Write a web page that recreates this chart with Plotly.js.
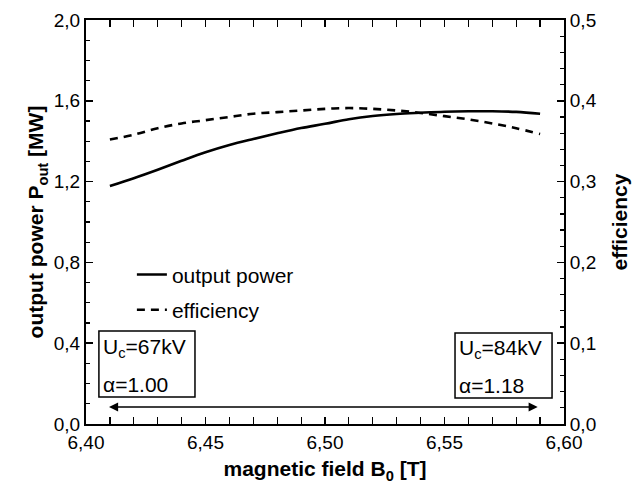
<!DOCTYPE html>
<html>
<head>
<meta charset="utf-8">
<script src="https://cdn.plot.ly/plotly-3.0.1.min.js"></script>
<style>
  html, body { margin: 0; padding: 0; background: #fff; }
  #chart { width: 635px; height: 484px; }
</style>
</head>
<body>
<div id="chart"></div>
<script>
// Magnetic field B0 [T]
const fieldB0 = [6.41, 6.42, 6.43, 6.44, 6.45, 6.46, 6.47, 6.48, 6.49, 6.50,
                 6.51, 6.52, 6.53, 6.54, 6.55, 6.56, 6.57, 6.58, 6.59];
// Output power P_out [MW]
const outputPower = [1.178, 1.217, 1.259, 1.303, 1.345, 1.381, 1.411, 1.439, 1.465, 1.486,
                     1.509, 1.525, 1.535, 1.541, 1.546, 1.548, 1.548, 1.545, 1.536];
// Efficiency
const efficiency = [0.352, 0.358, 0.366, 0.372, 0.376, 0.380, 0.384, 0.386, 0.388, 0.390,
                    0.391, 0.390, 0.388, 0.385, 0.381, 0.377, 0.372, 0.366, 0.359];

const seriesNames = ['output power', 'efficiency'];
const leftLabel = ['U<sub>c</sub>=67kV', 'α=1.00'];
const rightLabel = ['U<sub>c</sub>=84kV', 'α=1.18'];

const FONT = 'Liberation Sans, Arial, Helvetica, sans-serif';

const traces = [
  {
    x: fieldB0, y: outputPower, name: seriesNames[0], yaxis: 'y',
    mode: 'lines', line: { color: '#000', width: 2.6, shape: 'spline' },
    legendgroup: 'a'
  },
  {
    x: fieldB0, y: efficiency, name: seriesNames[1], yaxis: 'y2',
    mode: 'lines', line: { color: '#000', width: 2.6, dash: '8px,6px', shape: 'spline' },
    legendgroup: 'b'
  }
];

const axisCommon = {
  ticks: 'inside', ticklen: 7, tickwidth: 1.5, tickcolor: '#000',
  showline: true, linewidth: 2, linecolor: '#000',
  showgrid: false, zeroline: false,
  tickfont: { family: FONT, size: 19, color: '#000' }
};

const textFont = { family: FONT, size: 21, color: '#000' };

function boxLabel(lines, xLeft, yTop, yBottom) {
  return [
    { x: xLeft, y: yTop, xref: 'x', yref: 'y', text: lines[0], showarrow: false,
      xanchor: 'left', yanchor: 'middle', align: 'left', font: textFont },
    { x: xLeft, y: yBottom, xref: 'x', yref: 'y', text: lines[1], showarrow: false,
      xanchor: 'left', yanchor: 'middle', align: 'left', font: textFont }
  ];
}

const layout = {
  width: 635, height: 484,
  margin: { l: 86, r: 71, t: 20, b: 60 },
  paper_bgcolor: '#fff', plot_bgcolor: '#fff',
  separators: ',.',
  font: { family: FONT, color: '#000' },
  showlegend: true,
  legend: {
    x: 0.096, y: 0.42, xanchor: 'left', yanchor: 'top',
    bgcolor: 'rgba(0,0,0,0)', borderwidth: 0,
    font: textFont, tracegroupgap: 5
  },
  xaxis: Object.assign({}, axisCommon, {
    range: [6.40, 6.60], tick0: 6.40, dtick: 0.05, tickformat: '.2f',
    mirror: 'allticks',
    minor: { dtick: 0.01, ticks: 'inside', ticklen: 4, tickwidth: 1.2, tickcolor: '#000' },
    title: { text: 'magnetic field B<sub>0</sub> [T]', standoff: 10,
             font: { family: FONT, size: 21, color: '#000', weight: 'bold' } }
  }),
  yaxis: Object.assign({}, axisCommon, {
    range: [0, 2.0], tick0: 0, dtick: 0.4, tickformat: '.1f',
    minor: { dtick: 0.1, ticks: 'inside', ticklen: 4, tickwidth: 1.2, tickcolor: '#000' },
    title: { text: 'output power P<sub>out</sub> [MW]', standoff: 4,
             font: { family: FONT, size: 21, color: '#000', weight: 'bold' } }
  }),
  yaxis2: Object.assign({}, axisCommon, {
    overlaying: 'y', side: 'right',
    range: [0, 0.5], tick0: 0, dtick: 0.1, tickformat: '.1f',
    minor: { dtick: 0.02, ticks: 'inside', ticklen: 4, tickwidth: 1.2, tickcolor: '#000' },
    title: { text: 'efficiency', standoff: 17,
             font: { family: FONT, size: 21, color: '#000', weight: 'bold' } }
  }),
  shapes: [
    { type: 'rect', xref: 'x', yref: 'y', x0: 6.4054, x1: 6.4456, y0: 0.134, y1: 0.460,
      line: { color: '#000', width: 1.5 } },
    { type: 'rect', xref: 'x', yref: 'y', x0: 6.5544, x1: 6.5950, y0: 0.129, y1: 0.450,
      line: { color: '#000', width: 1.5 } }
  ],
  annotations: [
    ...boxLabel(leftLabel, 6.4062, 0.375, 0.195),
    ...boxLabel(rightLabel, 6.5552, 0.370, 0.190),
    { x: 6.589, y: 0.084, ax: 6.409, ay: 0.084, xref: 'x', yref: 'y', axref: 'x', ayref: 'y',
      text: '', showarrow: true, arrowside: 'end+start', arrowhead: 2,
      startarrowhead: 2, arrowsize: 1.3, startarrowsize: 1.3, arrowwidth: 1.4, arrowcolor: '#000' }
  ]
};

Plotly.newPlot('chart', traces, layout, { staticPlot: true, displayModeBar: false });
</script>
</body>
</html>
